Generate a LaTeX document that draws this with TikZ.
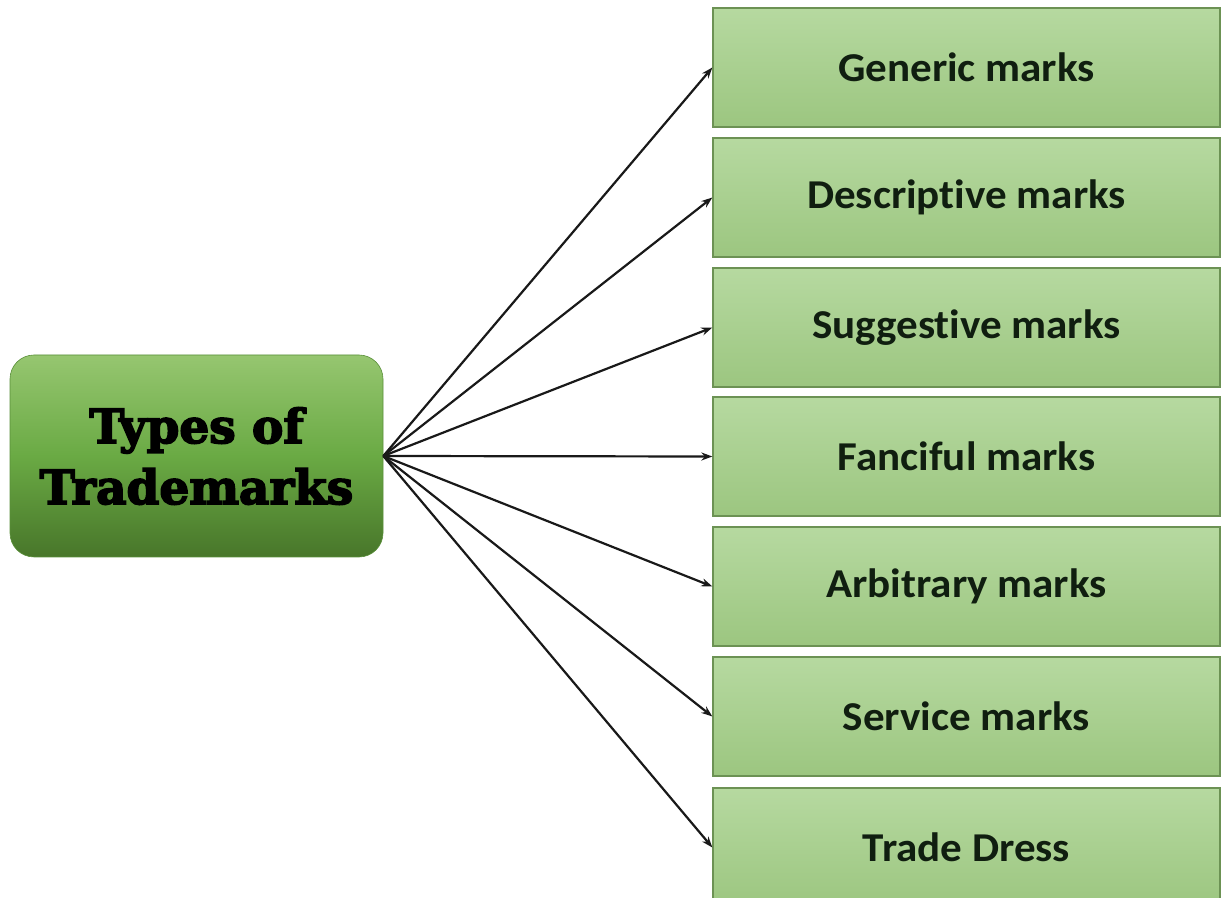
\documentclass[tikz,border=0pt]{standalone}
\usepackage{fontspec}
\setmainfont{Carlito}[Ligatures=NoCommon]
\newfontfamily\heavyserif{DejaVu Serif}[BoldFeatures={FakeBold=3.5}]
\usetikzlibrary{arrows.meta}
\definecolor{leafborder}{RGB}{108,146,84}
\definecolor{leaftop}{RGB}{182,217,160}
\definecolor{leafbottom}{RGB}{156,198,128}
\definecolor{roottop}{RGB}{150,198,112}
\definecolor{rootmid}{RGB}{106,170,68}
\definecolor{rootbottom}{RGB}{72,118,42}
\definecolor{labelink}{RGB}{16,30,16}
\tikzset{
  leafbox/.style={draw=leafborder, line width=1.3pt, top color=leaftop, bottom color=leafbottom,
    minimum width=507pt, minimum height=119pt, inner sep=0pt,
    font=\fontsize{41}{44}\selectfont\bfseries, text=labelink},
  rootbox/.style={rounded corners=24pt, top color=roottop, bottom color=rootbottom, middle color=rootmid,
    draw=rootmid!85!black, line width=0.6pt,
    minimum width=373pt, minimum height=202pt, inner sep=0pt, align=center,
    font=\heavyserif\bfseries\fontsize{47}{61}\selectfont},
  branch/.style={-{Stealth[length=11pt,width=8pt]}, line width=2.2pt, black!90}
}
\newcommand{\leaflabel}[1]{\scalebox{1.05}[1]{#1}}
\begin{document}
\begin{tikzpicture}[x=1pt,y=1pt]
  \useasboundingbox (0,0) rectangle (1222,897);
  \clip (0,0) rectangle (1222,897);
  \fill[white] (0,0) rectangle (1222,897);
  % root node
  \node[rootbox] (root) at (196.5,441) {Types of\\Trademarks};
  % category nodes
  \node[leafbox] (g) at (966.5,829.5) {\leaflabel{Generic marks}};
  \node[leafbox] (d) at (966.5,699.5) {\leaflabel{Descriptive marks}};
  \node[leafbox] (s) at (966.5,569.5) {\leaflabel{Suggestive marks}};
  \node[leafbox] (f) at (966.5,440.5) {\leaflabel{Fanciful marks}};
  \node[leafbox] (a) at (966.5,310.5) {\leaflabel{Arbitrary marks}};
  \node[leafbox] (v) at (966.5,180.5) {\leaflabel{Service marks}};
  \node[leafbox] (t) at (966.5,49.5) {\leaflabel{Trade Dress}};
  % connectors
  \foreach \n in {g,d,s,f,a,v,t}
    \draw[branch] (root.east) -- (\n.west);
\end{tikzpicture}
\end{document}
